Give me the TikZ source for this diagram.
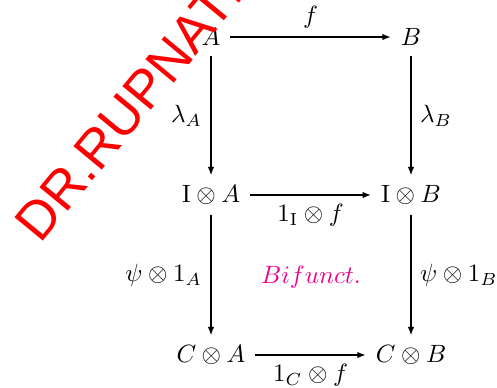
\documentclass[tikz,border=0pt]{standalone}
\usepackage{fontspec}
\newfontfamily\markfont{Liberation Sans}
\usetikzlibrary{arrows.meta}
\definecolor{bifcol}{RGB}{236,0,140}

\begin{document}
\begin{tikzpicture}[x=0.4pt,y=-0.4pt,
  obj/.style={inner sep=4pt, outer sep=0pt},
  arr/.style={line width=0.6pt, -{Latex[length=3.4pt, width=2.6pt]}}]
\useasboundingbox (0,0) rectangle (497,387);
\node[obj] (a)  at (211,37)  {$A$};
\node[obj] (b)  at (411,37)  {$B$};
\node[obj] (ia) at (211,195) {$\mathrm{I}\otimes A$};
\node[obj] (ib) at (411,195) {$\mathrm{I}\otimes B$};
\node[obj] (ca) at (211,355) {$C\otimes A$};
\node[obj] (cb) at (411,355) {$C\otimes B$};
\draw[arr] (a) -- node[above] {$f$} (b);
\draw[arr] (a) -- node[left] {$\lambda_A$} (ia);
\draw[arr] (b) -- node[right] {$\lambda_B$} (ib);
\draw[arr] (ia) -- node[below] {$1_{\mathrm{I}}\otimes f$} (ib);
\draw[arr] (ia) -- node[left] {$\psi\otimes 1_A$} (ca);
\draw[arr] (ib) -- node[right] {$\psi\otimes 1_B$} (cb);
\draw[arr] (ca) -- node[below] {$1_C\otimes f$} (cb);
\node[text=bifcol] (bif) at (311,277) {$Bifunct.$};
% watermark
\begin{scope}
\clip (0,0) rectangle (497,387);
\node[rotate=50.5, text=red, inner sep=0pt, font=\markfont\fontsize{21.4}{21.4}\selectfont] (mark) at (137,99) {DR.RUPNATH};
\end{scope}
\end{tikzpicture}
\end{document}
